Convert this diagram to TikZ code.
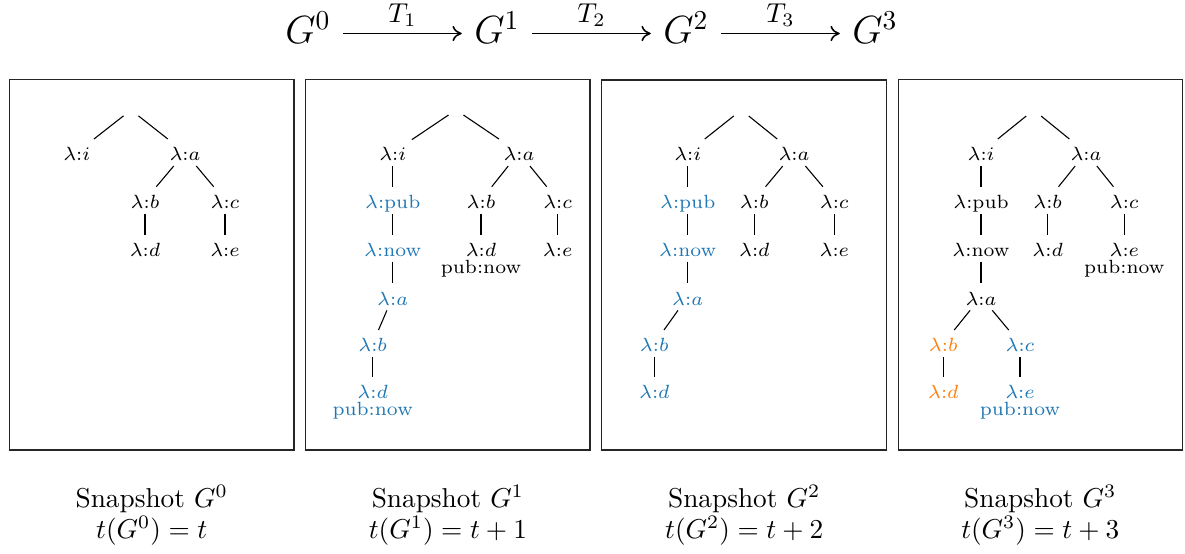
\documentclass[tikz,border=0pt]{standalone}
\usepackage{amsmath}
\usepackage{fontspec}
\usetikzlibrary{arrows.meta}
\definecolor{newblue}{HTML}{1F77B4}
\definecolor{neworange}{HTML}{FF7F0E}
\tikzset{
  tn/.style={font=\scriptsize, shape=rectangle, inner xsep=1.9pt, inner ysep=0pt,
             minimum height=9.5pt, text height=6pt, text depth=0pt},
  rt/.style={shape=rectangle, inner sep=0pt, minimum width=5.1pt, minimum height=4.4pt},
  pn/.style={font=\scriptsize, inner sep=0pt, anchor=base},
  treeline/.style={draw=black, line width=0.4pt},
  panel/.style={draw=black!85, line width=0.5pt},
  gn/.style={font=\Large, inner ysep=0pt, inner xsep=4.4pt, text height=7.2pt, text depth=0pt},
  step arrow/.style={line width=0.55pt, -{Computer Modern Rightarrow[length=3.4pt,width=5.6pt]}},
  tlabel/.style={font=\normalsize, inner sep=0pt, above=2.2pt},
  captext/.style={font=\normalsize, inner sep=0pt, anchor=base},
  hl/.style={text=newblue},
  ch/.style={text=neworange}
}
\begin{document}
\begin{tikzpicture}[x={(0.3663pt,0)}, y={(0,-0.3663pt)}]
\useasboundingbox (0,0) rectangle (1185,554);

% sequence of snapshots and transformations
\node[gn] (g0) at (308,33.5) {$G^0$};
\node[gn] (g1) at (497,33.5) {$G^1$};
\node[gn] (g2) at (686,33.5) {$G^2$};
\node[gn] (g3) at (875,33.5) {$G^3$};
\draw[step arrow] (g0) -- node[tlabel] (t1) {$T_1$} (g1);
\draw[step arrow] (g1) -- node[tlabel] (t2) {$T_2$} (g2);
\draw[step arrow] (g2) -- node[tlabel] (t3) {$T_3$} (g3);

% panel frames
\draw[panel] (9.3,79.3) rectangle (294,450);
\draw[panel] (305.7,79.3) rectangle (590,450);
\draw[panel] (601.7,80) rectangle (886.7,450);
\draw[panel] (898.3,79.3) rectangle (1182.3,450);

% ---------- snapshot G^0 ----------
\node[rt] (ar) at (131,110) {};
\node[tn] (ai) at (76.7,152.55) {$\lambda$:$i$};
\node[tn] (aa) at (185,152.55) {$\lambda$:$a$};
\node[tn] (ab) at (145,200.25) {$\lambda$:$b$};
\node[tn] (ac) at (225,200.25) {$\lambda$:$c$};
\node[tn] (ad) at (145,248.2) {$\lambda$:$d$};
\node[tn] (ae) at (225,248.2) {$\lambda$:$e$};
\draw[treeline] (ar) -- (ai);
\draw[treeline] (ar) -- (aa);
\draw[treeline] (aa) -- (ab);
\draw[treeline] (aa) -- (ac);
\draw[treeline] (ab) -- (ad);
\draw[treeline] (ac) -- (ae);

% ---------- snapshot G^1 ----------
\node[rt] (br) at (456,110) {};
\node[tn] (bi) at (392.7,152.55) {$\lambda$:$i$};
\node[tn] (ba) at (519,152.55) {$\lambda$:$a$};
\node[tn,hl] (bpub) at (392.7,200.25) {$\lambda$:pub};
\node[tn] (bb) at (481,200.25) {$\lambda$:$b$};
\node[tn] (bc) at (557.7,200.25) {$\lambda$:$c$};
\node[tn,hl] (bnow) at (392.7,248.2) {$\lambda$:now};
\node[tn] (bd) at (481,248.2) {$\lambda$:$d$};
\node[pn] (bdp) at (481,273.4) {pub:now};
\node[tn] (be) at (557.7,248.2) {$\lambda$:$e$};
\node[tn,hl] (ba2) at (392.7,296.85) {$\lambda$:$a$};
\node[tn,hl] (bb2) at (372.7,343.55) {$\lambda$:$b$};
\node[tn,hl] (bd2) at (372.7,390.7) {$\lambda$:$d$};
\node[pn,hl] (bd2p) at (372.7,415.8) {pub:now};
\draw[treeline] (br) -- (bi);
\draw[treeline] (br) -- (ba);
\draw[treeline] (bi) -- (bpub);
\draw[treeline] (bpub) -- (bnow);
\draw[treeline] (bnow) -- (ba2);
\draw[treeline] (ba2) -- (bb2);
\draw[treeline] (bb2) -- (bd2);
\draw[treeline] (ba) -- (bb);
\draw[treeline] (ba) -- (bc);
\draw[treeline] (bb) -- (bd);
\draw[treeline] (bc) -- (be);

% ---------- snapshot G^2 ----------
\node[rt] (cr) at (741.3,110) {};
\node[tn] (ci) at (687.7,152.55) {$\lambda$:$i$};
\node[tn] (ca) at (794,152.55) {$\lambda$:$a$};
\node[tn,hl] (cpub) at (687.7,200.25) {$\lambda$:pub};
\node[tn] (cb) at (754.3,200.25) {$\lambda$:$b$};
\node[tn] (cc) at (834.3,200.25) {$\lambda$:$c$};
\node[tn,hl] (cnow) at (687.7,248.2) {$\lambda$:now};
\node[tn] (cd) at (754.3,248.2) {$\lambda$:$d$};
\node[tn] (ce) at (834.3,248.2) {$\lambda$:$e$};
\node[tn,hl] (ca2) at (687.7,296.85) {$\lambda$:$a$};
\node[tn,hl] (cb2) at (654.3,343.55) {$\lambda$:$b$};
\node[tn,hl] (cd2) at (654.3,390.7) {$\lambda$:$d$};
\draw[treeline] (cr) -- (ci);
\draw[treeline] (cr) -- (ca);
\draw[treeline] (ci) -- (cpub);
\draw[treeline] (cpub) -- (cnow);
\draw[treeline] (cnow) -- (ca2);
\draw[treeline] (ca2) -- (cb2);
\draw[treeline] (cb2) -- (cd2);
\draw[treeline] (ca) -- (cb);
\draw[treeline] (ca) -- (cc);
\draw[treeline] (cb) -- (cd);
\draw[treeline] (cc) -- (ce);

% ---------- snapshot G^3 ----------
\node[rt] (dr) at (1033.7,110) {};
\node[tn] (di) at (981,152.55) {$\lambda$:$i$};
\node[tn] (da) at (1086,152.55) {$\lambda$:$a$};
\node[tn] (dpub) at (981,200.25) {$\lambda$:pub};
\node[tn] (db) at (1047.7,200.25) {$\lambda$:$b$};
\node[tn] (dc) at (1124.3,200.25) {$\lambda$:$c$};
\node[tn] (dnow) at (981,248.2) {$\lambda$:now};
\node[tn] (dd) at (1047.7,248.2) {$\lambda$:$d$};
\node[tn] (de) at (1124.3,248.2) {$\lambda$:$e$};
\node[pn] (dep) at (1124.3,273.4) {pub:now};
\node[tn] (da2) at (981,296.85) {$\lambda$:$a$};
\node[tn,ch] (db2) at (943.3,343.55) {$\lambda$:$b$};
\node[tn,hl] (dc2) at (1020,343.55) {$\lambda$:$c$};
\node[tn,ch] (dd2) at (943.3,390.7) {$\lambda$:$d$};
\node[tn,hl] (de2) at (1020,390.7) {$\lambda$:$e$};
\node[pn,hl] (de2p) at (1020,415.8) {pub:now};
\draw[treeline] (dr) -- (di);
\draw[treeline] (dr) -- (da);
\draw[treeline] (di) -- (dpub);
\draw[treeline] (dpub) -- (dnow);
\draw[treeline] (dnow) -- (da2);
\draw[treeline] (da2) -- (db2);
\draw[treeline] (da2) -- (dc2);
\draw[treeline] (db2) -- (dd2);
\draw[treeline] (dc2) -- (de2);
\draw[treeline] (da) -- (db);
\draw[treeline] (da) -- (dc);
\draw[treeline] (db) -- (dd);
\draw[treeline] (dc) -- (de);

% captions
\node[captext] (s0) at (151.7,507.3) {Snapshot $G^0$};
\node[captext] (u0) at (151.7,538.5) {$t(G^0) = t$};
\node[captext] (s1) at (447.9,507.3) {Snapshot $G^1$};
\node[captext] (u1) at (447.9,538.5) {$t(G^1) = t+1$};
\node[captext] (s2) at (744.2,507.3) {Snapshot $G^2$};
\node[captext] (u2) at (744.2,538.5) {$t(G^2) = t+2$};
\node[captext] (s3) at (1040.3,507.3) {Snapshot $G^3$};
\node[captext] (u3) at (1040.3,538.5) {$t(G^3) = t+3$};
\end{tikzpicture}
\end{document}
